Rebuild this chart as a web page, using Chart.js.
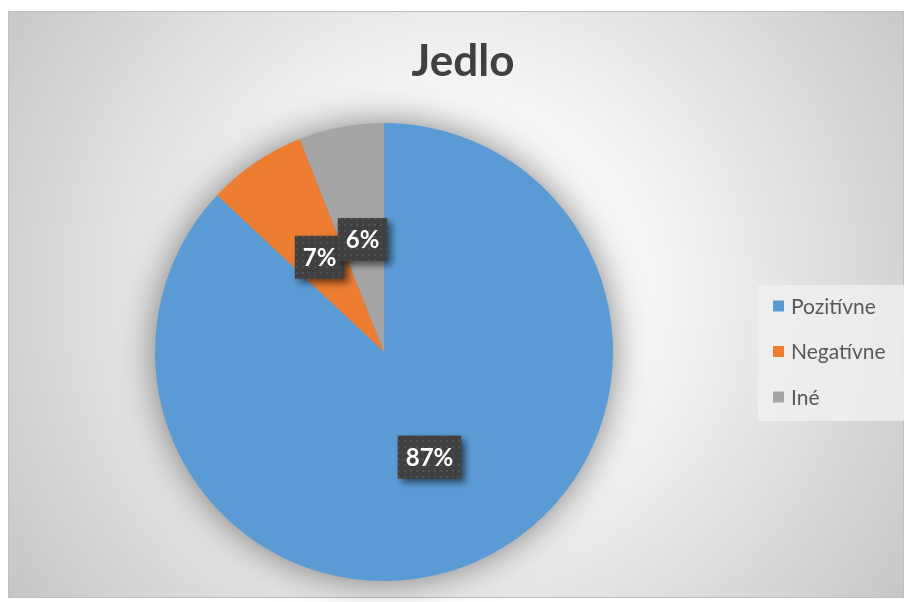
<!DOCTYPE html>
<html>
<head>
<meta charset="utf-8">
<script src="https://cdn.jsdelivr.net/npm/chart.js@4"></script>
<style>
  html, body { margin: 0; padding: 0; background: #fff; }
  canvas { display: block; }
</style>
</head>
<body>
<canvas id="pieChart" width="904" height="602"></canvas>
<script>
const chartTitle = "Jedlo";
const categories = ["Pozitívne", "Negatívne", "Iné"];
const shares = [87, 7, 6];
const sliceColors = ["#5B9BD5", "#ED7D31", "#A5A5A5"];

const FONT = "Lato, 'Open Sans', sans-serif";

// dark dotted fill used behind the percentage labels
function dotPattern(ctx) {
  const tile = document.createElement("canvas");
  tile.width = 6;
  tile.height = 6;
  const t = tile.getContext("2d");
  t.fillStyle = "#404040";
  t.fillRect(0, 0, 6, 6);
  t.fillStyle = "#505050";
  t.fillRect(2, 2, 2, 2);
  return ctx.createPattern(tile, "repeat");
}

const backdrop = {
  id: "backdrop",
  beforeDraw(chart) {
    const ctx = chart.ctx;
    ctx.save();
    ctx.fillStyle = "#ffffff";
    ctx.fillRect(0, 0, chart.width, chart.height);

    const frame = { x: 8, y: 11, w: 896, h: 587 };
    const grad = ctx.createRadialGradient(460, 290, 0, 460, 290, 560);
    grad.addColorStop(0, "#ffffff");
    grad.addColorStop(0.35, "#f6f6f6");
    grad.addColorStop(1, "#c4c4c4");
    ctx.fillStyle = grad;
    ctx.fillRect(frame.x, frame.y, frame.w, frame.h);
    ctx.strokeStyle = "#c0c0c0";
    ctx.lineWidth = 1;
    ctx.strokeRect(frame.x + 0.5, frame.y + 0.5, frame.w - 1, frame.h - 1);

    ctx.fillStyle = "#404040";
    ctx.font = "bold 44px " + FONT;
    ctx.textAlign = "center";
    ctx.textBaseline = "middle";
    ctx.fillText(chartTitle, 463, 62);
    ctx.restore();
  },
  beforeDatasetsDraw(chart) {
    const arc = chart.getDatasetMeta(0).data[0];
    if (!arc) return;
    const ctx = chart.ctx;
    ctx.save();
    ctx.shadowColor = "rgba(0,0,0,0.5)";
    ctx.shadowBlur = 36;
    ctx.fillStyle = sliceColors[0];
    ctx.beginPath();
    ctx.arc(arc.x, arc.y, arc.outerRadius - 1, 0, Math.PI * 2);
    ctx.fill();
    ctx.restore();
  }
};

const valueLabels = {
  id: "valueLabels",
  afterDatasetsDraw(chart) {
    const ctx = chart.ctx;
    const fill = dotPattern(ctx);
    ctx.save();
    ctx.font = "bold 24px " + FONT;
    ctx.textAlign = "center";
    ctx.textBaseline = "middle";
    chart.getDatasetMeta(0).data.forEach((arc, i) => {
      const pos = arc.tooltipPosition();
      const text = shares[i] + "%";
      const w = ctx.measureText(text).width + 16;
      const h = 43;
      const x = pos.x - w / 2;
      const y = pos.y - h / 2;
      ctx.save();
      ctx.shadowColor = "rgba(0,0,0,0.55)";
      ctx.shadowBlur = 7;
      ctx.shadowOffsetX = 4;
      ctx.shadowOffsetY = 4;
      ctx.fillStyle = fill;
      ctx.fillRect(x, y, w, h);
      ctx.restore();
      ctx.fillStyle = "#ffffff";
      ctx.fillText(text, pos.x, pos.y + 1);
    });
    ctx.restore();
  }
};

const sideLegend = {
  id: "sideLegend",
  afterDraw(chart) {
    const ctx = chart.ctx;
    ctx.save();
    ctx.fillStyle = "rgba(240,240,240,0.8)";
    ctx.fillRect(758, 285, 146, 136);
    ctx.font = "21px " + FONT;
    ctx.textAlign = "left";
    ctx.textBaseline = "middle";
    categories.forEach((name, i) => {
      const cy = 306 + i * 45.5;
      ctx.fillStyle = sliceColors[i];
      ctx.fillRect(773, cy - 5.5, 11, 11);
      ctx.fillStyle = "#595959";
      ctx.fillText(name, 791, cy + 1);
    });
    ctx.restore();
  }
};

new Chart(document.getElementById("pieChart"), {
  type: "pie",
  data: {
    labels: categories,
    datasets: [{
      data: shares,
      backgroundColor: sliceColors,
      borderWidth: 0
    }]
  },
  options: {
    responsive: false,
    animation: false,
    layout: { padding: { left: 155, right: 291, top: 123, bottom: 21 } },
    plugins: {
      legend: { display: false },
      title: { display: false },
      tooltip: { enabled: false }
    }
  },
  plugins: [backdrop, valueLabels, sideLegend]
});
</script>
</body>
</html>
